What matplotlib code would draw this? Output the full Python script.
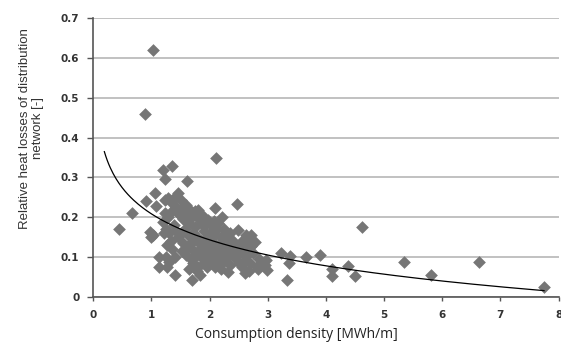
import numpy as np
import matplotlib
matplotlib.use("Agg")
import matplotlib.pyplot as plt

# consumption density [MWh/m] and relative heat losses [-]
density = [
    0.44, 0.66, 0.89, 1.02, 0.91, 1.06, 1.07, 0.97, 1.00, 1.02, 1.20, 1.23, 1.35, 1.61,
    2.11, 2.47, 1.13, 1.13, 1.27, 1.41, 1.69, 1.83, 1.80, 2.31, 2.61, 2.99, 3.33, 3.22,
    3.39, 3.37, 3.66, 3.90, 4.10, 4.10, 4.38, 4.50, 4.62, 5.34, 5.80, 6.63, 7.75,
    1.23, 1.29, 1.33, 1.46, 1.51, 1.40, 1.23, 1.20, 1.43, 1.49, 1.35, 1.28, 1.25, 1.30,
    1.38, 1.33, 1.27, 1.36, 1.25, 1.40, 1.45, 1.30, 1.22, 1.42,
    1.60, 1.55, 1.65, 1.58, 1.70, 1.80, 1.87, 1.97, 1.75, 1.85, 1.62, 1.72, 1.78, 1.90,
    1.95, 1.55, 1.65, 1.70, 1.82, 1.88, 1.93, 1.60, 1.68, 1.75, 1.85, 1.98, 1.72, 1.90,
    1.78, 1.95, 1.65, 1.85, 1.52, 1.92, 1.75, 1.60,
    2.09, 2.22, 2.15, 2.05, 2.25, 2.35, 2.10, 2.20, 2.30, 2.40, 2.05, 2.15, 2.25, 2.45,
    2.35, 2.10, 2.20, 2.30, 2.40, 2.05, 2.15, 2.25, 2.45, 2.10, 2.35, 2.50, 2.20, 2.02,
    2.28,
    2.49, 2.69, 2.71, 2.63, 2.72, 2.78, 2.55, 2.60, 2.55, 2.65, 2.75, 2.85, 2.97, 2.89,
    2.82, 2.95, 2.60, 2.70, 2.55, 2.83, 2.68,
    1.45, 1.55, 1.68, 1.82, 1.92, 2.00, 2.00, 2.12, 2.30, 2.38, 2.18, 2.42, 2.50, 1.62,
    1.50, 1.72, 2.08, 2.25, 1.88, 2.00, 2.12, 2.55, 2.65, 1.80,
]
losses = [
    0.171, 0.211, 0.459, 0.620, 0.240, 0.262, 0.229, 0.162, 0.151, 0.155, 0.318, 0.296,
    0.329, 0.291, 0.350, 0.233, 0.100, 0.075, 0.075, 0.054, 0.042, 0.054, 0.075, 0.063,
    0.059, 0.067, 0.042, 0.111, 0.102, 0.084, 0.100, 0.104, 0.069, 0.052, 0.077, 0.052,
    0.176, 0.086, 0.055, 0.086, 0.024,
    0.243, 0.247, 0.238, 0.261, 0.243, 0.250, 0.210, 0.189, 0.226, 0.205, 0.215, 0.200,
    0.170, 0.160, 0.180, 0.140, 0.130, 0.120, 0.100, 0.100, 0.150, 0.088, 0.160, 0.165,
    0.210, 0.195, 0.185, 0.170, 0.200, 0.218, 0.205, 0.193, 0.175, 0.185, 0.155, 0.160,
    0.150, 0.165, 0.150, 0.135, 0.130, 0.120, 0.135, 0.125, 0.115, 0.105, 0.095, 0.100,
    0.105, 0.100, 0.085, 0.085, 0.065, 0.075, 0.070, 0.140, 0.115, 0.135, 0.215, 0.230,
    0.222, 0.201, 0.185, 0.175, 0.170, 0.160, 0.155, 0.150, 0.145, 0.140, 0.135, 0.130,
    0.125, 0.125, 0.115, 0.110, 0.105, 0.100, 0.105, 0.095, 0.085, 0.090, 0.095, 0.075,
    0.080, 0.085, 0.070, 0.120, 0.135,
    0.168, 0.147, 0.127, 0.155, 0.155, 0.138, 0.140, 0.125, 0.110, 0.105, 0.110, 0.095,
    0.092, 0.084, 0.075, 0.080, 0.090, 0.085, 0.075, 0.070, 0.065,
    0.210, 0.220, 0.215, 0.195, 0.180, 0.160, 0.140, 0.170, 0.155, 0.125, 0.120, 0.115,
    0.110, 0.125, 0.160, 0.140, 0.190, 0.110, 0.095, 0.085, 0.095, 0.130, 0.140, 0.115,
]
YTICKS = [0, 0.1, 0.2, 0.3, 0.4, 0.5, 0.6, 0.7]
YTICKLABELS = ["0", "0.1", "0.2", "0.3", "0.4", "0.5", "0.6", "0.7"]
XTICKS = list(range(9))

x = np.array(density)
y = np.array(losses)

# logarithmic trendline, as Excel does it
b, a = np.polyfit(np.log(x), y, 1)
xt = np.linspace(0.19, x.max(), 300)

fig = plt.figure(figsize=(5.61, 3.43), dpi=100)
ax = fig.add_axes([0.1663, 0.135, 0.8294, 0.8116])

ax.scatter(x, y, marker="D", s=42, color="#767676", linewidths=0, zorder=3)
ax.plot(xt, a + b * np.log(xt), color="black", lw=0.9, zorder=4)

ax.set_xlim(0, 8)
ax.set_ylim(0, 0.7)
ax.set_yticks(YTICKS)
ax.set_yticklabels(YTICKLABELS)
ax.set_xticks(XTICKS)
ax.grid(axis="y", color="#b0b0b0", lw=1.1, zorder=0)
ax.set_axisbelow(True)
for s in ("top", "right"):
    ax.spines[s].set_visible(False)
for s in ("left", "bottom"):
    ax.spines[s].set_color("#555555")
    ax.spines[s].set_linewidth(1.2)
ax.tick_params(axis="both", direction="out", width=1, color="#555555",
               labelsize=7.5, labelcolor="#333333")
ax.tick_params(axis="y", length=4.5, pad=5.5)
ax.tick_params(axis="x", length=3, pad=6.5)
for lab in ax.get_xticklabels() + ax.get_yticklabels():
    lab.set_family("DejaVu Sans")
    lab.set_weight("bold")

ax.set_xlabel("Consumption density [MWh/m]", fontsize=10, family="Open Sans", color="#222222")
ax.xaxis.set_label_coords(0.436, -0.11)
ax.set_ylabel("Relative heat losses of distribution\nnetwork [-]", fontsize=9.5,
              family="Liberation Sans", color="#333333", linespacing=1.1)
ax.yaxis.set_label_coords(-0.106, 0.605)

fig.savefig("out.png", dpi=100)
